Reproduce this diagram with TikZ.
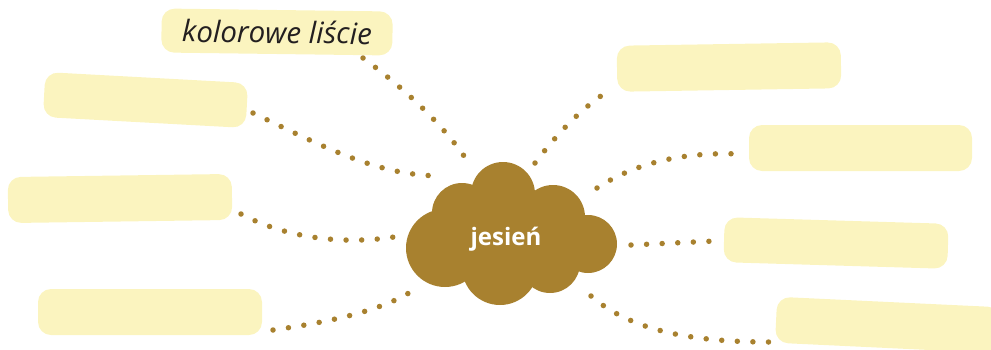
\documentclass[tikz,border=0pt]{standalone}
\usepackage{fontspec}
\setmainfont{Open Sans}
\definecolor{boxc}{HTML}{FBF4BF}
\definecolor{cloudc}{HTML}{A8812F}
\definecolor{txtc}{HTML}{231F20}
\begin{document}
\begin{tikzpicture}[x=1pt,y=-1pt,
  box/.style={fill=boxc, rounded corners=13pt, minimum width=224pt, minimum height=46pt, inner sep=0pt},
  dots/.style={draw=cloudc, line width=5.5pt, line cap=round, dash pattern=on 0pt off 15.6pt},
  puff/.style={fill=cloudc}]
\useasboundingbox (0,0) rectangle (991,349);
\clip (0,0) rectangle (991,349);
% boxes
\node[box, minimum width=231pt, minimum height=44pt, rotate=-0.75] (b1) at (277,32)
  {\fontsize{29.5}{32}\selectfont\itshape\color{txtc}kolorowe liście};
\node[box, minimum width=203pt, minimum height=45pt, rotate=-3.1] (b2) at (145.5,100) {};
\node[box, rotate=0.8] (b3) at (120,198.5) {};
\node[box] (b4) at (150,312) {};
\node[box, rotate=0.9] (b5) at (729,67) {};
\node[box, minimum width=223pt] (b6) at (860.5,148) {};
\node[box, minimum height=45pt, rotate=-1.7] (b7) at (836,243) {};
\node[box, rotate=-2.7] (b8) at (888,325) {};
% cloud
\fill[puff] (503,194) circle (32);
\fill[puff] (462,213) circle (30);
\fill[puff] (445,248) circle (39);
\fill[puff] (500,267) circle (38);
\fill[puff] (550,263) circle (30);
\fill[puff] (588,244) circle (29);
\fill[puff] (553,217) circle (32);
\fill[puff] (510,238) circle (48);
\node[text=white, font=\bfseries\fontsize{24}{27}\selectfont] (cloud) at (506,239) {jesień};
% connector end points
\coordinate (a1) at (363,58);   \coordinate (a2) at (470,165);
\coordinate (c1) at (253,113);  \coordinate (c2) at (443,176);
\coordinate (d1) at (241,214);  \coordinate (d2) at (400,236);
\coordinate (e1) at (273,330);  \coordinate (e2) at (415,289);
\coordinate (f1) at (613,88);   \coordinate (f2) at (535,163);
\coordinate (g1) at (740,154);  \coordinate (g2) at (597,188);
\coordinate (h1) at (715,241);  \coordinate (h2) at (631,245);
\coordinate (k1) at (770,342);  \coordinate (k2) at (591,296);
% dotted connectors
\draw[dots] (a1) .. controls (400,85) and (445,125) .. (a2);
\draw[dots] (c1) .. controls (330,150) and (380,176) .. (c2);
\draw[dots] (d1) .. controls (290,240) and (350,245) .. (d2);
\draw[dots] (e1) .. controls (330,322) and (385,310) .. (e2);
\draw[dots] (f2) .. controls (560,130) and (585,105) .. (f1);
\draw[dots] (g2) .. controls (640,160) and (690,152) .. (g1);
\draw[dots] (h2) -- (h1);
\draw[dots] (k2) .. controls (630,330) and (690,342) .. (k1);
\end{tikzpicture}
\end{document}
